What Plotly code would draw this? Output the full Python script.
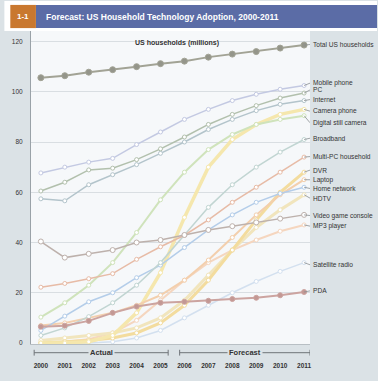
import plotly.graph_objects as go

years = list(range(2000, 2012))
year_labels = [str(y) for y in years]

total_households = [105.6, 106.4, 107.8, 108.8, 110, 111.2, 112.2, 113.8, 115, 116, 117.4, 118.6]
mobile_phone = [67.7, 70, 72, 73.5, 79, 84, 89, 93, 96.5, 99, 101, 102.5]
pc = [60.5, 64, 68.9, 69.6, 73, 77.3, 82, 87, 91, 94.5, 97.5, 99.5]
internet = [57.4, 56.6, 63, 67, 71, 75.5, 80, 85, 89, 92.5, 95, 96.5]
camera_phone = [0, 0, 0.5, 3, 12, 28, 50, 70, 81, 87, 91, 93]
digital_camera = [10.3, 16, 23, 32, 44, 57, 68, 77, 83, 87, 89, 90.5]
broadband = [3, 6, 10.5, 16, 23, 32, 43, 54, 63, 70, 76, 81]
multi_pc = [22.2, 23.7, 25.6, 27.6, 33.3, 38.3, 42.9, 49, 56, 62, 68, 74]
dvr = [0, 0.5, 1, 2, 4, 8, 15, 25, 37, 49, 60, 68]
laptop = [7, 8, 10, 12, 15, 19, 25, 33, 42, 51, 59, 65]
home_network = [5, 10.7, 16.4, 20, 26, 31, 38, 45, 51, 56, 59.5, 62]
hdtv = [1, 2, 3, 4, 6, 10, 17, 27, 37, 46, 53, 59]
video_game = [40.4, 34, 35.5, 37, 40, 41, 43, 45, 46.5, 48, 49.5, 51]
mp3_player = [0, 0.5, 1.5, 4, 9, 17, 25, 32, 37, 41, 44.5, 47]
satellite_radio = [0, 0, 0, 0.5, 2, 5, 10, 15, 20, 24.5, 28.5, 32]
pda = [6.5, 6.9, 8.8, 12, 14.5, 16, 16.4, 16.8, 17.5, 18, 19, 20.3]

series_names = ["Total US households", "Mobile phone", "PC", "Internet", "Camera phone",
                "Digital still camera", "Broadband", "Multi-PC household", "DVR", "Laptop",
                "Home network", "HDTV", "Video game console", "MP3 player",
                "Satellite radio", "PDA"]
series_values = [total_households, mobile_phone, pc, internet, camera_phone, digital_camera,
                 broadband, multi_pc, dvr, laptop, home_network, hdtv, video_game,
                 mp3_player, satellite_radio, pda]

title_text = "Forecast: US Household Technology Adoption, 2000-2011"
y_title = "US households (millions)"

# ---- styling ----
FONT = "Liberation Sans Narrow, Arial Narrow, sans-serif"
styles = {
    "Total US households": dict(color="#a2a395", width=2, mfill="#94958a", msize=6),
    "Mobile phone": dict(color="#c3c9e2", width=1.5, mfill="white", msize=4),
    "PC": dict(color="#b2c0ad", width=1.5, mfill="white", msize=4),
    "Internet": dict(color="#b3c4cb", width=1.5, mfill="white", msize=4),
    "Camera phone": dict(color="#f5e7ad", width=3.5, mfill="white", msize=4),
    "Digital still camera": dict(color="#cfe3bb", width=2, mfill="white", msize=4),
    "Broadband": dict(color="#c1d5d2", width=1.5, mfill="white", msize=4),
    "Multi-PC household": dict(color="#e7bba6", width=1.5, mfill="white", msize=4),
    "DVR": dict(color="#f3dc9e", width=3, mfill="white", msize=4),
    "Laptop": dict(color="#f3cfad", width=2, mfill="white", msize=4),
    "Home network": dict(color="#b4cde9", width=1.5, mfill="white", msize=4),
    "HDTV": dict(color="#f1e5bd", width=3, mfill="white", msize=4),
    "Video game console": dict(color="#bdb1ac", width=1.5, mfill="white", msize=5),
    "MP3 player": dict(color="#f5d6bf", width=2, mfill="white", msize=4),
    "Satellite radio": dict(color="#d3e0ef", width=1.5, mfill="white", msize=4),
    "PDA": dict(color="#cca4a0", width=2, mfill="#c39894", msize=5),
}
label_py = [45, 85, 92, 102, 114, 126, 142, 161, 175, 185, 194, 204, 222, 233, 273, 300]

W, H = 378, 381
ML, MR, MT, MB = 27, 68, 31, 26
PW, PH = W - ML - MR, H - MT - MB
X0, X1 = 1999.588, 2011.247
Y0, Y1 = -0.4, 124.2


def pxx(px):
    return (px - ML) / PW


def pxy(py):
    return (H - MB - py) / PH


def py_to_val(py):
    return Y1 - (py - MT) * (Y1 - Y0) / PH


fig = go.Figure()
draw_order = ["Satellite radio", "MP3 player", "HDTV", "DVR", "Camera phone", "Laptop",
              "Home network", "Broadband", "Digital still camera", "Multi-PC household",
              "Video game console", "Internet", "PC", "Mobile phone", "PDA",
              "Total US households"]
for name in draw_order:
    vals = series_values[series_names.index(name)]
    s = styles[name]
    fig.add_trace(go.Scatter(
        x=years, y=vals, mode="lines+markers", name=name,
        line=dict(color=s["color"], width=s["width"]),
        marker=dict(size=s["msize"], color=s["mfill"], line=dict(color=s["color"], width=1)),
        showlegend=False, hoverinfo="skip"))

shapes = []
annotations = []
# title bar
shapes.append(dict(type="rect", xref="paper", yref="paper", x0=pxx(0), x1=pxx(W), y0=pxy(31), y1=pxy(0),
                   fillcolor="white", line=dict(width=0), layer="below"))
shapes.append(dict(type="rect", xref="paper", yref="paper", x0=pxx(32), x1=pxx(W), y0=pxy(28), y1=pxy(4),
                   fillcolor="#5b6ca6", line=dict(width=0)))
shapes.append(dict(type="rect", xref="paper", yref="paper", x0=pxx(6), x1=pxx(32), y0=pxy(28), y1=pxy(4),
                   fillcolor="#c9782f", line=dict(width=0)))
annotations.append(dict(text="<b>1-1</b>", xref="paper", yref="paper", x=pxx(19), y=pxy(16),
                        showarrow=False, font=dict(color="white", size=8, family=FONT),
                        xanchor="center", yanchor="middle"))
annotations.append(dict(text="<b>" + title_text + "</b>", xref="paper", yref="paper", x=pxx(40), y=pxy(16),
                        showarrow=False, font=dict(color="white", size=8.5, family=FONT),
                        xanchor="left", yanchor="middle"))
# y title
annotations.append(dict(text="<b>" + y_title + "</b>", xref="paper", yref="paper", x=pxx(130), y=pxy(43),
                        showarrow=False, font=dict(color="#333333", size=7, family=FONT),
                        xanchor="left", yanchor="middle"))
# right labels & leaders
for name, vals, lp in zip(series_names, series_values, label_py):
    lv = py_to_val(lp)
    shapes.append(dict(type="line", xref="x", yref="y", x0=years[-1], y0=vals[-1],
                       x1=X1, y1=lv, line=dict(color="#8a8f92", width=0.8)))
    annotations.append(dict(text=name, xref="paper", yref="y", x=pxx(311), y=lv,
                            showarrow=False, xanchor="left", yanchor="middle",
                            font=dict(color="#333333", size=6.6, family=FONT)))
# Actual / Forecast brackets
for xa, xb, txt in [(1999.72, 2005.32, "Actual"), (2005.8, X1, "Forecast")]:
    shapes.append(dict(type="line", xref="x", yref="paper", x0=xa, x1=xb, y0=pxy(364), y1=pxy(364),
                       line=dict(color="#6f7478", width=1)))
    for xe in (xa, xb):
        shapes.append(dict(type="line", xref="x", yref="paper", x0=xe, x1=xe, y0=pxy(361), y1=pxy(367),
                           line=dict(color="#6f7478", width=1)))
    annotations.append(dict(text="<b>" + txt + "</b>", xref="x", yref="paper", x=(xa + xb) / 2, y=pxy(364),
                            showarrow=False, xanchor="center", yanchor="middle", bgcolor="#dbe2e6",
                            font=dict(color="#333333", size=7.5, family=FONT)))

fig.update_layout(
    width=W, height=H, autosize=False,
    margin=dict(l=ML, r=MR, t=MT, b=MB, pad=0),
    paper_bgcolor="#dbe2e6", plot_bgcolor="#f6f8fa",
    shapes=shapes, annotations=annotations,
    xaxis=dict(range=[X0, X1], tickvals=years, ticktext=["<b>" + t + "</b>" for t in year_labels],
               showgrid=False, zeroline=False, showline=True, linecolor="#b8bfc4", ticks="",
               ticklabelstandoff=15,
               tickfont=dict(size=6.5, color="#333333", family=FONT)),
    yaxis=dict(range=[Y0, Y1], tickvals=[0, 20, 40, 60, 80, 100, 120], showgrid=True,
               gridcolor="#d9dee2", gridwidth=1, zeroline=False, showline=True,
               linecolor="#9aa2a8", linewidth=1, ticks="",
               ticklabelstandoff=6,
               tickfont=dict(size=6.5, color="#333333", family=FONT)),
)

fig.write_html("out.html")
